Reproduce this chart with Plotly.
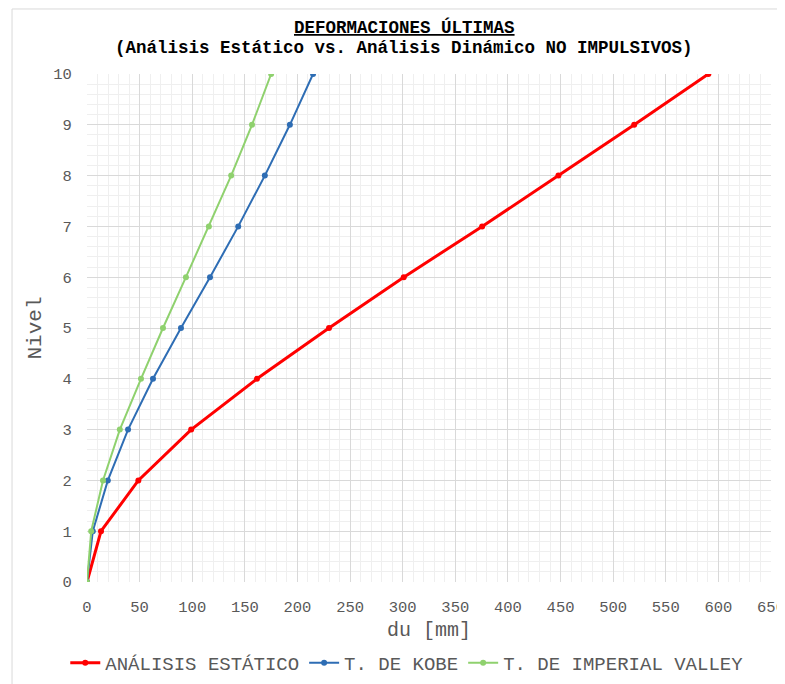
import plotly.graph_objects as go

niveles = [0, 1, 2, 3, 4, 5, 6, 7, 8, 9, 10]
estatico = [0, 13.3, 48.8, 99.0, 161.5, 230.0, 301.0, 375.5, 448.0, 520.0, 590.5]
kobe = [0, 5.5, 19.8, 39.0, 62.7, 89.3, 116.9, 143.7, 169.0, 192.8, 214.8]
imperial = [0, 4.0, 15.2, 31.2, 51.3, 72.2, 94.0, 115.8, 137.0, 156.8, 175.0]

names = ["ANÁLISIS ESTÁTICO", "T. DE KOBE", "T. DE IMPERIAL VALLEY"]
colors = ["#ff0000", "#2e6db4", "#8fd16e"]
widths = [3, 2, 2]
series = [estatico, kobe, imperial]

title1 = "DEFORMACIONES ÚLTIMAS"
title2 = "(Análisis Estático vs. Análisis Dinámico NO IMPULSIVOS)"

FONT = "Liberation Mono, Courier New, monospace"

fig = go.Figure()
for name, vals, c, w in zip(names, series, colors, widths):
    fig.add_trace(go.Scatter(x=vals, y=niveles, mode="lines+markers", name=name,
                             line=dict(color=c, width=w),
                             marker=dict(color=c, size=6)))

fig.update_layout(
    width=785, height=684,
    margin=dict(l=79, r=22, t=66, b=110, autoexpand=False),
    paper_bgcolor="white", plot_bgcolor="white",
    font=dict(family=FONT, color="#595959", size=15),
    xaxis=dict(
        range=[0, 650], dtick=50, tick0=0, automargin=False,
        showgrid=True, gridcolor="#d9d9d9", gridwidth=1,
        minor=dict(dtick=10, showgrid=True, gridcolor="#efefef", gridwidth=1, ticks=""),
        zeroline=False, showline=False,
        ticks="outside", ticklen=10, tickcolor="rgba(0,0,0,0)",
        title=dict(text="du [mm]", font=dict(family=FONT, size=20, color="#595959"), standoff=6),
        tickfont=dict(family=FONT, size=15.5, color="#595959"),
    ),
    yaxis=dict(
        range=[0, 10], dtick=1, tick0=0, automargin=False,
        showgrid=True, gridcolor="#d9d9d9", gridwidth=1,
        minor=dict(dtick=0.2, showgrid=True, gridcolor="#efefef", gridwidth=1, ticks=""),
        zeroline=False, showline=False,
        ticks="outside", ticklen=11, tickcolor="rgba(0,0,0,0)",
        title=dict(text="Nivel", font=dict(family=FONT, size=21, color="#595959"), standoff=5),
        tickfont=dict(family=FONT, size=15.5, color="#595959"),
    ),
    legend=dict(orientation="h", xref="container", x=0.508, xanchor="center",
                y=-0.122, yanchor="top",
                font=dict(family=FONT, size=19, color="#595959"),
                itemwidth=30, tracegroupgap=0),
    showlegend=True,
)

fig.add_annotation(text="<b><span style='text-decoration:underline'>" + title1 + "</span></b>",
                   xref="paper", yref="paper", x=0.4635, y=1.0925, xanchor="center", yanchor="middle",
                   showarrow=False, font=dict(family=FONT, size=17.5, color="#000000"))
fig.add_annotation(text="<b>" + title2 + "</b>",
                   xref="paper", yref="paper", x=0.4635, y=1.0512, xanchor="center", yanchor="middle",
                   showarrow=False, font=dict(family=FONT, size=17.5, color="#000000"))

fig.add_shape(type="rect", xref="paper", yref="paper",
              x0=-0.1096, x1=1.05, y0=-0.3, y1=1.128,
              line=dict(color="#d9d9d9", width=1))

fig.write_html("out.html")
